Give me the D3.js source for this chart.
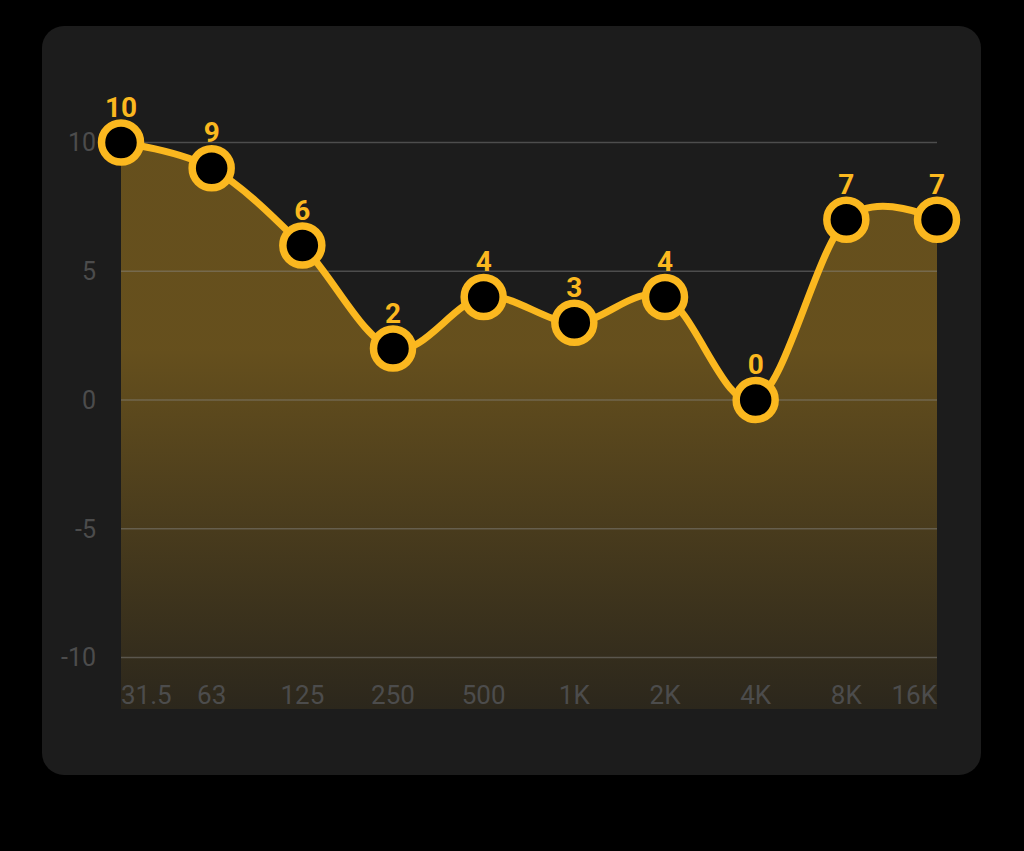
<!DOCTYPE html>
<html>
<head>
<meta charset="utf-8">
<script src="https://cdn.jsdelivr.net/npm/d3@7"></script>
<style>
  html, body { margin: 0; padding: 0; background: #000; }
  svg { display: block; font-family: Roboto, "Noto Sans", sans-serif; }
</style>
</head>
<body>
<svg id="chart" width="1024" height="851"></svg>
<script>
// band labels and gain values
const bands = ["31.5", "63", "125", "250", "500", "1K", "2K", "4K", "8K", "16K"];
const gains = [10, 9, 6, 2, 4, 3, 4, 0, 7, 7];
const yTicks = [10, 5, 0, -5, -10];

const width = 1024;
const height = 851;
const plotLeft = 121;
const plotRight = 937;
const plotTop = 91;
const plotBottom = 709;
const gold = "#fbb81f";

const svg = d3.select("#chart");

// card
svg.append("rect")
    .attr("x", 42)
    .attr("y", 26)
    .attr("width", 939)
    .attr("height", 749)
    .attr("rx", 22)
    .attr("fill", "#1c1c1c");

let x = d3.scalePoint()
    .domain(bands)
    .range([plotLeft, plotRight]);

let y = d3.scaleLinear()
    .domain([-12, 12])
    .range([plotBottom, plotTop]);

let defs = svg.append("defs");
let gradient = defs.append("linearGradient")
    .attr("id", "fillGradient")
    .attr("gradientUnits", "userSpaceOnUse")
    .attr("x1", 0)
    .attr("x2", 0)
    .attr("y1", y(2))
    .attr("y2", y(-12));

gradient.append("stop")
    .attr("offset", "0%")
    .attr("stop-color", gold)
    .attr("stop-opacity", 0.33);

gradient.append("stop")
    .attr("offset", "100%")
    .attr("stop-color", gold)
    .attr("stop-opacity", 0.07);

const curve = d3.curveCardinal.tension(0);

let area = d3.area()
    .x((d, i) => x(bands[i]))
    .y0(plotBottom)
    .y1(d => y(d))
    .curve(curve);

let line = d3.line()
    .x((d, i) => x(bands[i]))
    .y(d => y(d))
    .curve(curve);

svg.append("path")
    .attr("d", area(gains))
    .attr("fill", "url(#fillGradient)");

// grid lines
svg.selectAll("line.grid")
    .data(yTicks)
    .enter().append("line")
    .attr("class", "grid")
    .attr("x1", plotLeft)
    .attr("x2", plotRight)
    .attr("y1", d => y(d))
    .attr("y2", d => y(d))
    .attr("stroke", "#8a8a8a")
    .attr("stroke-opacity", 0.45)
    .attr("stroke-width", 1.5);

// y axis labels
svg.selectAll("text.ylab")
    .data(yTicks)
    .enter().append("text")
    .attr("class", "ylab")
    .attr("x", 96)
    .attr("y", d => y(d))
    .attr("dy", "0.35em")
    .attr("text-anchor", "end")
    .attr("font-size", 25)
    .attr("fill", "#4c4c4c")
    .text(d => d);

// x axis labels
svg.selectAll("text.xlab")
    .data(bands)
    .enter().append("text")
    .attr("class", "xlab")
    .attr("x", d => x(d))
    .attr("y", 704)
    .attr("text-anchor", (d, i) => i == 0 ? "start" : (i == bands.length - 1 ? "end" : "middle"))
    .attr("font-size", 26)
    .attr("fill", "#4c4c4c")
    .text(d => d);

svg.append("path")
    .attr("d", line(gains))
    .attr("fill", "none")
    .attr("stroke", gold)
    .attr("stroke-width", 7);

let points = svg.selectAll("g.point")
    .data(gains)
    .enter().append("g")
    .attr("class", "point");

points.append("circle")
    .attr("cx", (d, i) => x(bands[i]))
    .attr("cy", d => y(d))
    .attr("r", 19.5)
    .attr("fill", "#000")
    .attr("stroke", gold)
    .attr("stroke-width", 7.5);

points.append("text")
    .attr("x", (d, i) => x(bands[i]))
    .attr("y", d => y(d) - 26)
    .attr("text-anchor", "middle")
    .attr("font-size", 28)
    .attr("font-weight", "bold")
    .attr("fill", gold)
    .text(d => d);
</script>
</body>
</html>
